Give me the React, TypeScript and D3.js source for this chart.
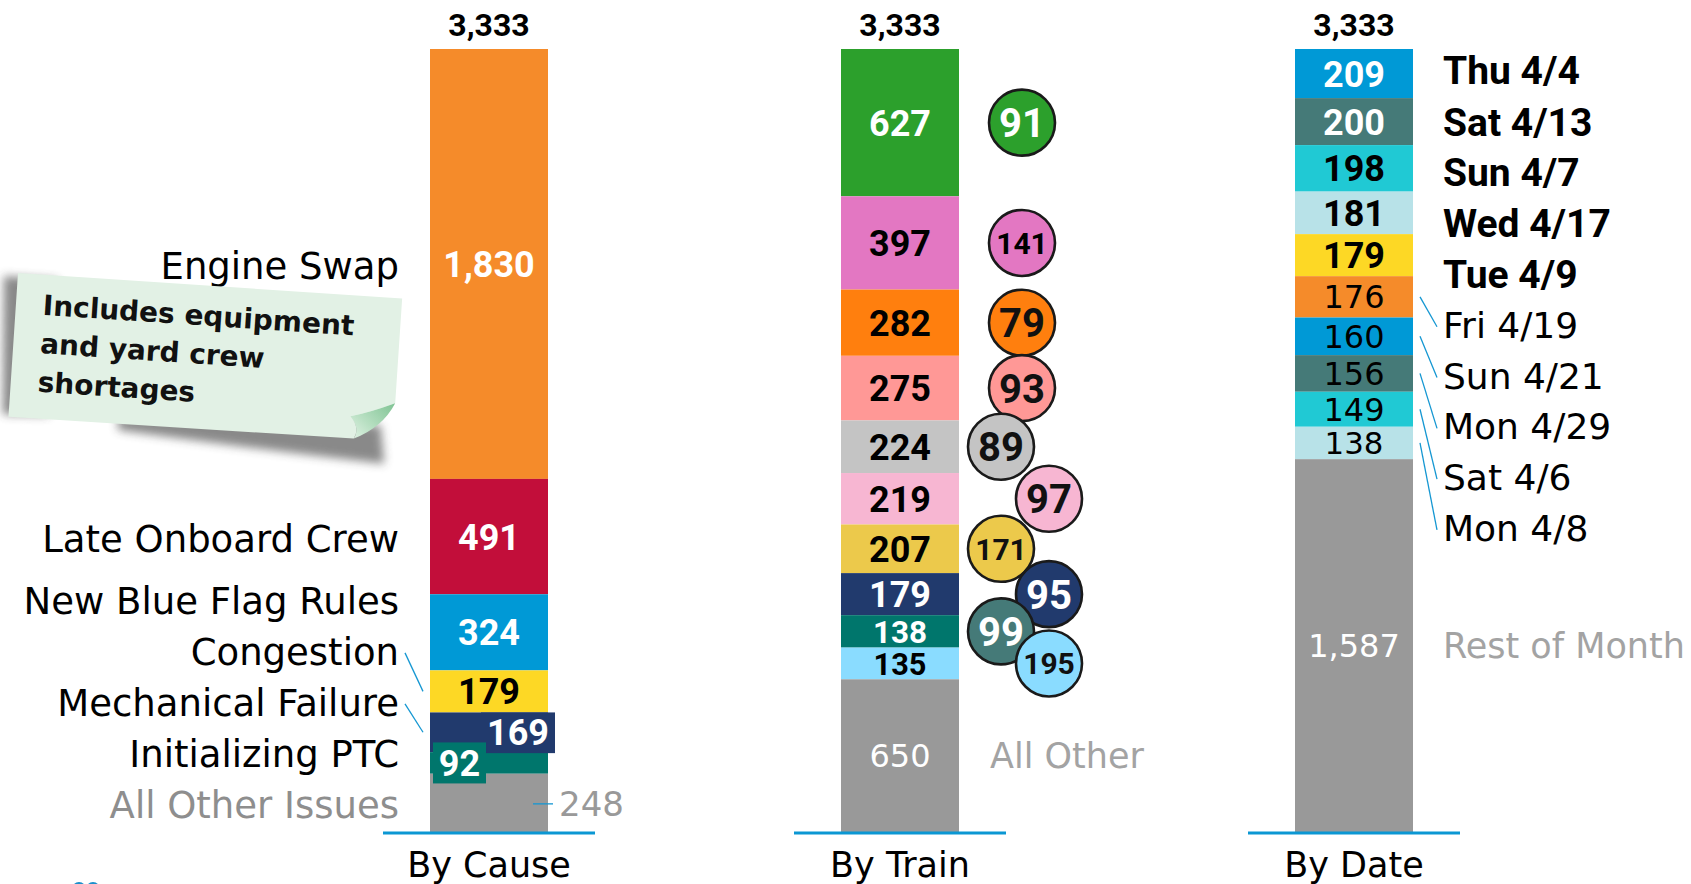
import React from "react";
import * as d3 from "d3";

// ---------------- data ----------------
const groups = ["By Cause", "By Train", "By Date"];
const totals = [3333, 3333, 3333];

const causeNames = [
  "Engine Swap",
  "Late Onboard Crew",
  "New Blue Flag Rules",
  "Congestion",
  "Mechanical Failure",
  "Initializing PTC",
  "All Other Issues",
];
const causeValues = [1830, 491, 324, 179, 169, 92, 248];
const causeLeaderNames = ["Congestion", "Mechanical Failure"];

const trainValues = [627, 397, 282, 275, 224, 219, 207, 179, 138, 135, 650];
const trainBadges = [91, 141, 79, 93, 89, 97, 171, 95, 99, 195];
const trainOtherLabel = "All Other";

const dateNames = [
  "Thu 4/4",
  "Sat 4/13",
  "Sun 4/7",
  "Wed 4/17",
  "Tue 4/9",
  "Fri 4/19",
  "Sun 4/21",
  "Mon 4/29",
  "Sat 4/6",
  "Mon 4/8",
  "Rest of Month",
];
const dateValues = [209, 200, 198, 181, 179, 176, 160, 156, 149, 138, 1587];

const noteLines = ["Includes equipment", "and yard crew", "shortages"];

// ---------------- styles ----------------
const causeFill = ["#F58B2A", "#C20E3A", "#0099D6", "#FDD825", "#213A6D", "#00766C", "#999999"];
const causeInk = ["#FFFFFF", "#FFFFFF", "#FFFFFF", "#000000", "#FFFFFF", "#FFFFFF", "#999999"];
const trainFill = ["#2CA02C", "#E377C2", "#FF7F0E", "#FF9896", "#C4C4C4", "#F7B6D2", "#ECC94B", "#213A6D", "#00766C", "#8ADCFF", "#999999"];
const trainInk = ["#FFFFFF", "#000000", "#000000", "#000000", "#000000", "#000000", "#000000", "#FFFFFF", "#FFFFFF", "#000000", "#FFFFFF"];
const badgeFill = ["#2CA02C", "#E377C2", "#FF7F0E", "#FF9896", "#C4C4C4", "#F7B6D2", "#ECC94B", "#213A6D", "#457A78", "#8ADCFF"];
const badgeInk = ["#FFFFFF", "#000000", "#111111", "#111111", "#111111", "#111111", "#111111", "#FFFFFF", "#FFFFFF", "#111111"];
const dateFill = ["#0099D6", "#457A78", "#20C9D4", "#B8E2E8", "#FDD825", "#F58B2A", "#0099D6", "#457A78", "#20C9D4", "#B8E2E8", "#999999"];
const dateInk = ["#FFFFFF", "#FFFFFF", "#000000", "#000000", "#000000", "#000000", "#000000", "#000000", "#000000", "#000000", "#FFFFFF"];
const BOLD_DATE_COUNT = 5;

const REG = "'DejaVu Sans', 'Noto Sans', sans-serif";
const BOLD = "Roboto, 'Noto Sans', sans-serif";
const LEADER = "#1597D2";
const GREY_TEXT = "#A3A3A3";

type Seg = { v: number; y0: number; y1: number; c: number };

export default function App() {
  const W = 1691;
  const H = 884;
  const y = d3.scaleLinear().domain([0, d3.max(totals) as number]).range([832, 49]);
  const xc = d3.scaleOrdinal<string, number>().domain(groups).range([489, 900, 1354]);
  const bw = 118;
  const fmt = d3.format(",");

  const stack = (vals: number[]): Seg[] => {
    let acc = d3.sum(vals);
    return vals.map((v) => {
      const t = acc;
      acc -= v;
      const y0 = y(t);
      const y1 = y(acc);
      return { v, y0, y1, c: (y0 + y1) / 2 };
    });
  };

  // ---- By Cause ----
  const cs = stack(causeValues);
  const cx1 = xc(groups[0]);
  const L1 = cx1 - bw / 2;
  const R1 = cx1 + bw / 2;
  const causeLabelY: number[] = new Array(cs.length);
  for (let i = cs.length - 1; i >= 0; i--) {
    const want = cs[i].c + 2;
    causeLabelY[i] = i === cs.length - 1 ? want : Math.min(want, causeLabelY[i + 1] - 51);
  }
  const causeLabelRight = L1 - 31;

  // ---- By Train ----
  const ts = stack(trainValues);
  const cx2 = xc(groups[1]);
  const L2 = cx2 - bw / 2;
  const R2 = cx2 + bw / 2;
  const badgeX = (i: number) => (i < 4 ? R2 + 63 : i % 2 === 0 ? R2 + 42 : R2 + 90);

  // ---- By Date ----
  const ds = stack(dateValues);
  const cx3 = xc(groups[2]);
  const L3 = cx3 - bw / 2;
  const R3 = cx3 + bw / 2;
  const dateLabelY: number[] = [];
  ds.slice(0, ds.length - 1).forEach((s, i) => {
    dateLabelY.push(i === 0 ? s.c - 3.5 : Math.max(s.c, dateLabelY[i - 1] + 50.8));
  });
  dateLabelY.push(ds[ds.length - 1].c);
  const dateLabelX = R3 + 30;

  const bigNum = (x: number, yy: number, t: string, fill: string, key: string, size = 36) => (
    <text key={key} x={x} y={yy} dy="0.36em" textAnchor="middle" fontFamily={BOLD} fontWeight={700} fontSize={size} fill={fill}>
      {t}
    </text>
  );
  const regNum = (x: number, yy: number, t: string, fill: string, key: string, size = 32) => (
    <text key={key} x={x} y={yy} dy="0.36em" textAnchor="middle" fontFamily={REG} fontSize={size} fill={fill}>
      {t}
    </text>
  );

  return (
    <svg
      width={W}
      height={H}
      viewBox={`0 0 ${W} ${H}`}
      style={{ position: "absolute", left: 0, top: 0, display: "block", background: "#FFFFFF" }}
    >
      <defs>
        <filter id="noteShadow" x="-20%" y="-30%" width="140%" height="170%">
          <feGaussianBlur stdDeviation="5" />
        </filter>
        <linearGradient id="curl" x1="1" y1="0" x2="0" y2="1">
          <stop offset="0" stopColor="#7FC393" />
          <stop offset="0.6" stopColor="#B9E0C3" />
          <stop offset="1" stopColor="#E4F3E7" />
        </linearGradient>
      </defs>

      {/* totals */}
      {groups.map((g, i) => (
        <text key={"tot" + g} x={xc(g)} y={36} textAnchor="middle" fontFamily={BOLD} fontWeight={700} fontSize={32} fill="#000">
          {fmt(totals[i])}
        </text>
      ))}

      {/* ========== By Cause ========== */}
      {cs.map((s, i) => (
        <rect key={"cr" + i} x={L1} y={s.y0} width={bw} height={s.y1 - s.y0} fill={causeFill[i]} />
      ))}
      {cs.slice(0, 4).map((s, i) => bigNum(cx1, s.c, fmt(s.v), causeInk[i], "cl" + i))}
      {/* 169 boxed label */}
      <rect x={cx1 - 8} y={cs[4].y0} width={R1 + 7 - (cx1 - 8)} height={cs[4].y1 - cs[4].y0 + 1} fill={causeFill[4]} />
      {bigNum((cx1 - 8 + R1 + 7) / 2, cs[4].c, fmt(cs[4].v), causeInk[4], "cl4")}
      {/* 92 boxed label */}
      <rect x={L1 + 3} y={cs[5].c - 20.5} width={53} height={41} fill={causeFill[5]} />
      {bigNum(L1 + 3 + 26.5, cs[5].c, fmt(cs[5].v), causeInk[5], "cl5")}
      {/* 248 outside label */}
      <line x1={R1 - 15} x2={R1 + 5} y1={cs[6].c + 1} y2={cs[6].c + 1} stroke={LEADER} strokeWidth={1.3} />
      <text x={R1 + 11} y={cs[6].c + 1} dy="0.36em" fontFamily={REG} fontSize={34} fill={causeInk[6]}>
        {fmt(cs[6].v)}
      </text>
      {/* category names */}
      {causeNames.map((n, i) => (
        <text
          key={"cn" + i}
          x={causeLabelRight}
          y={causeLabelY[i]}
          dy="0.36em"
          textAnchor="end"
          fontFamily={REG}
          fontSize={37}
          fill={i === causeNames.length - 1 ? "#8E8E8E" : "#000"}
        >
          {n}
        </text>
      ))}
      {causeNames.map((n, i) =>
        causeLeaderNames.includes(n) ? (
          <line
            key={"cld" + i}
            x1={causeLabelRight + 6}
            y1={causeLabelY[i] + 1}
            x2={L1 - 7}
            y2={cs[i].c}
            stroke={LEADER}
            strokeWidth={1.3}
          />
        ) : null
      )}

      {/* ========== By Train ========== */}
      {ts.map((s, i) => (
        <rect key={"tr" + i} x={L2} y={s.y0} width={bw} height={s.y1 - s.y0} fill={trainFill[i]} />
      ))}
      {ts.map((s, i) =>
        i < ts.length - 1
          ? bigNum(cx2, s.c, fmt(s.v), trainInk[i], "tl" + i, Math.min(36, (s.y1 - s.y0) * 0.97))
          : regNum(cx2, s.c, fmt(s.v), trainInk[i], "tl" + i)
      )}
      {trainBadges.map((b, i) => (
        <g key={"bd" + i}>
          <circle cx={badgeX(i)} cy={ts[i].c} r={33} fill={badgeFill[i]} stroke="#1A1A1A" strokeWidth={2.6} />
          <text
            x={badgeX(i)}
            y={ts[i].c}
            dy="0.36em"
            textAnchor="middle"
            fontFamily={BOLD}
            fontWeight={700}
            fontSize={String(b).length >= 3 ? 30 : 40}
            fill={badgeInk[i]}
          >
            {b}
          </text>
        </g>
      ))}
      <text x={R2 + 31} y={ts[ts.length - 1].c} dy="0.36em" fontFamily={REG} fontSize={35} fill={GREY_TEXT}>
        {trainOtherLabel}
      </text>

      {/* ========== By Date ========== */}
      {ds.map((s, i) => (
        <rect key={"dr" + i} x={L3} y={s.y0} width={bw} height={s.y1 - s.y0} fill={dateFill[i]} />
      ))}
      {ds.map((s, i) =>
        i < BOLD_DATE_COUNT
          ? bigNum(cx3, s.c, fmt(s.v), dateInk[i], "dl" + i)
          : regNum(cx3, s.c, fmt(s.v), dateInk[i], "dl" + i, i === ds.length - 1 ? 32 : Math.min(32, (s.y1 - s.y0) * 0.95))
      )}
      {dateNames.map((n, i) => (
        <text
          key={"dn" + i}
          x={dateLabelX}
          y={dateLabelY[i]}
          dy="0.36em"
          fontFamily={i < BOLD_DATE_COUNT ? BOLD : REG}
          fontWeight={i < BOLD_DATE_COUNT ? 700 : 400}
          fontSize={i < BOLD_DATE_COUNT ? 39 : i === dateNames.length - 1 ? 35 : 36}
          fill={i === dateNames.length - 1 ? GREY_TEXT : "#000"}
        >
          {n}
        </text>
      ))}
      {ds.slice(0, ds.length - 1).map((s, i) =>
        i >= BOLD_DATE_COUNT && Math.abs(dateLabelY[i] - s.c) > 20 ? (
          <line
            key={"dld" + i}
            x1={R3 + 7}
            y1={s.c}
            x2={dateLabelX - 6}
            y2={dateLabelY[i] + 2}
            stroke={LEADER}
            strokeWidth={1.3}
          />
        ) : null
      )}

      {/* baselines and group labels */}
      {groups.map((g) => (
        <g key={"ax" + g}>
          <line x1={xc(g) - 106} x2={xc(g) + 106} y1={833} y2={833} stroke="#0B97D3" strokeWidth={3} />
          <text x={xc(g)} y={877} textAnchor="middle" fontFamily={REG} fontSize={35} fill="#000">
            {g}
          </text>
        </g>
      ))}

      {/* sticky note */}
      <g transform="translate(18,273) rotate(3.8)">
        <path
          d="M-14,4 L40,4 L40,140 L-6,142 Z M110,136 L372,128 L378,166 Q250,160 110,150 Z"
          fill="#3A3A3A"
          opacity={0.6}
          filter="url(#noteShadow)"
        />
        <path d="M0,0 H385 V105 Q360,116 341,121 Q352,132 346,143 L0,144 Z" fill="#E2F1E5" />
        <path d="M385,105 Q360,116 341,121 Q352,132 346,143 Q374,130 385,105 Z" fill="url(#curl)" />
        {noteLines.map((t, i) => (
          <text key={"nt" + i} x={27} y={40 + i * 38.5} fontFamily={REG} fontWeight={700} fontSize={28} fill="#111">
            {t}
          </text>
        ))}
      </g>

      {/* logo fragment */}
      <circle cx={79} cy={889} r={7} fill="#1B8FCB" />
      <circle cx={93} cy={889} r={7} fill="#1B8FCB" />
    </svg>
  );
}
